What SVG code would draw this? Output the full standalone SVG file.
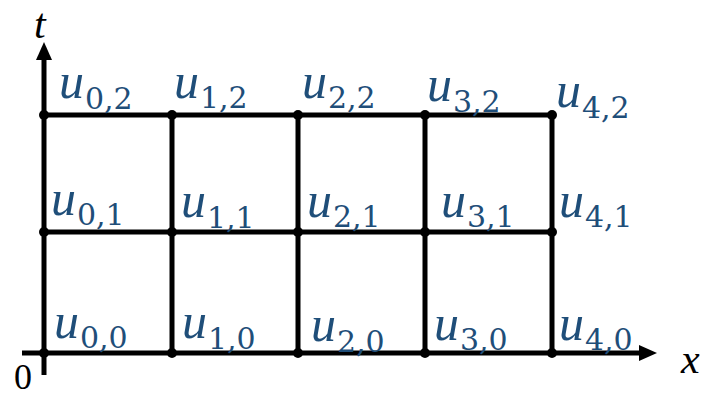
<svg xmlns="http://www.w3.org/2000/svg" width="706" height="397" viewBox="0 0 706 397">
<defs>
<style>
.ln{stroke:#000;stroke-width:5;fill:none;stroke-linecap:butt}
.dot{fill:#000}
.lbl{fill:#1F4E79}
.u{font-family:"Liberation Serif",serif;font-style:italic;font-size:50px}
.s{font-family:"DejaVu Serif","Liberation Serif",serif;font-size:30px}
.ax{font-family:"Liberation Serif",serif;font-style:italic;font-size:42px;fill:#000}
.zero{font-family:"Liberation Serif",serif;font-size:36px;fill:#000}
</style>
</defs>
<rect width="706" height="397" fill="#fff"/>
<g id="connectors">
<line class="ln" x1="44" y1="375" x2="44" y2="60"/>
<path d="M44,42 L36,60 L52,60 z" fill="#000"/>
<line class="ln" x1="22" y1="353" x2="640"  y2="353"/>
<path d="M657,353 L639,345 L639,361 z" fill="#000"/>
<line class="ln" x1="44" y1="115" x2="552" y2="115"/>
<line class="ln" x1="44" y1="232" x2="552" y2="232"/>
<line class="ln" x1="172" y1="115" x2="172" y2="353"/>
<line class="ln" x1="298" y1="115" x2="298" y2="353"/>
<line class="ln" x1="425" y1="115" x2="425" y2="353"/>
<line class="ln" x1="552" y1="115" x2="552" y2="353"/>
</g>
<g id="axis-labels">
<text class="ax" x="34" y="38">t</text>
<text class="ax" x="681" y="373">x</text>
<text class="zero" x="14" y="389">0</text>
</g>
<g id="n00"><circle class="dot" cx="44" cy="353" r="5"/><text class="lbl" x="54" y="338"><tspan class="u">u</tspan><tspan class="s" x="80" y="348">0,0</tspan></text></g>
<g id="n10"><circle class="dot" cx="172" cy="353" r="5"/><text class="lbl" x="182" y="338"><tspan class="u">u</tspan><tspan class="s" x="208" y="349">1,0</tspan></text></g>
<g id="n20"><circle class="dot" cx="298" cy="353" r="5"/><text class="lbl" x="311" y="341"><tspan class="u">u</tspan><tspan class="s" x="337" y="352">2,0</tspan></text></g>
<g id="n30"><circle class="dot" cx="425" cy="353" r="5"/><text class="lbl" x="434" y="340"><tspan class="u">u</tspan><tspan class="s" x="460" y="350">3,0</tspan></text></g>
<g id="n40"><circle class="dot" cx="552" cy="353" r="5"/><text class="lbl" x="559" y="340"><tspan class="u">u</tspan><tspan class="s" x="585" y="350">4,0</tspan></text></g>
<g id="n01"><circle class="dot" cx="44" cy="232" r="5"/><text class="lbl" x="51" y="215"><tspan class="u">u</tspan><tspan class="s" x="77" y="225">0,1</tspan></text></g>
<g id="n11"><circle class="dot" cx="172" cy="232" r="5"/><text class="lbl" x="181" y="217"><tspan class="u">u</tspan><tspan class="s" x="207" y="228">1,1</tspan></text></g>
<g id="n21"><circle class="dot" cx="298" cy="232" r="5"/><text class="lbl" x="307" y="217"><tspan class="u">u</tspan><tspan class="s" x="333" y="227">2,1</tspan></text></g>
<g id="n31"><circle class="dot" cx="425" cy="232" r="5"/><text class="lbl" x="441" y="217"><tspan class="u">u</tspan><tspan class="s" x="467" y="227">3,1</tspan></text></g>
<g id="n41"><circle class="dot" cx="552" cy="232" r="5"/><text class="lbl" x="559" y="217"><tspan class="u">u</tspan><tspan class="s" x="585" y="227">4,1</tspan></text></g>
<g id="n02"><circle class="dot" cx="44" cy="115" r="5"/><text class="lbl" x="59" y="98"><tspan class="u">u</tspan><tspan class="s" x="85" y="109">0,2</tspan></text></g>
<g id="n12"><circle class="dot" cx="172" cy="115" r="5"/><text class="lbl" x="174" y="98"><tspan class="u">u</tspan><tspan class="s" x="200" y="108">1,2</tspan></text></g>
<g id="n22"><circle class="dot" cx="298" cy="115" r="5"/><text class="lbl" x="302" y="98"><tspan class="u">u</tspan><tspan class="s" x="328" y="108">2,2</tspan></text></g>
<g id="n32"><circle class="dot" cx="425" cy="115" r="5"/><text class="lbl" x="427" y="101"><tspan class="u">u</tspan><tspan class="s" x="453" y="112">3,2</tspan></text></g>
<g id="n42"><circle class="dot" cx="552" cy="115" r="5"/><text class="lbl" x="556" y="107"><tspan class="u">u</tspan><tspan class="s" x="582" y="118">4,2</tspan></text></g>
</svg>
